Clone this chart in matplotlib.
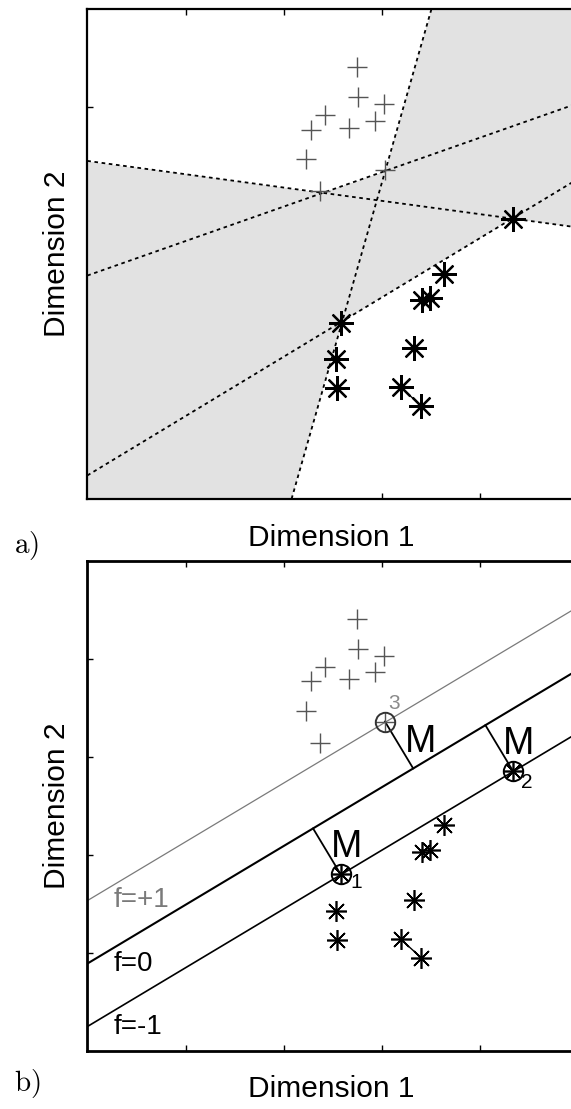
import numpy as np
import matplotlib
matplotlib.use("Agg")
import matplotlib.pyplot as plt

plt.rcParams['font.family'] = ['Liberation Sans', 'DejaVu Sans']
plt.rcParams['mathtext.fontset'] = 'cm'

# class "+" points (Dimension 1, Dimension 2)
plus_x = [2.75, 2.76, 3.02, 2.42, 2.28, 2.66, 2.93, 2.23, 2.37, 3.03]
plus_y = [4.41, 4.10, 4.03, 3.92, 3.77, 3.79, 3.86, 3.47, 3.14, 3.36]
# class "*" points
star_x = [4.33, 3.63, 3.41, 3.49, 2.58, 2.53, 3.33, 2.54, 3.19, 3.40]
star_y = [2.86, 2.30, 2.03, 2.05, 1.80, 1.43, 1.54, 1.13, 1.14, 0.95]

# panel a: four separating lines y = slope*x + icpt (A steep, B, C, D)
line_slope = [3.511, -0.136, 0.352, 0.606]
line_icpt = [-7.30, 3.45, 2.28, 0.24]

# panel b: margin lines f=+1, f=0, f=-1
svm_slope = 0.60
svm_icpt = [1.533, 0.891, 0.249]
svm_names = ["f=+1", "f=0", "f=-1"]
svm_colors = ["#7a7a7a", "black", "black"]
svm_widths = [0.9, 1.5, 1.2]
name_pos = [(0.27, 1.54), (0.27, 0.886), (0.27, 0.244)]

# support vectors: index into star / plus lists, label, and where text goes
sv_list = [("star", 4, "1"), ("star", 0, "2"), ("plus", 9, "3")]
sv_label_pos = [(2.74, 1.72), (4.47, 2.74), (3.12, 3.54)]
m_label_pos = [(2.64, 2.08), (4.39, 3.13), (3.39, 3.15)]

W, H = 571, 1109
fig = plt.figure(figsize=(W / 100, H / 100), dpi=100)


def make_axes(bottom_px, top_px):
    left = 87.3 / W
    width = (578.5 - 87.3) / W
    ax = fig.add_axes([left, 1 - bottom_px / H, width, (bottom_px - top_px) / H])
    ax.set_xlim(0, 5)
    ax.set_ylim(0, 5)
    ax.set_xticks([1, 2, 3, 4])
    ax.set_yticks([1, 2, 3, 4])
    ax.tick_params(direction='in', length=4, width=1, top=True, right=True,
                   labelbottom=False, labelleft=False)
    ax.set_axisbelow(True)
    return ax


def draw_points(ax, star_ms, star_mew):
    ax.plot(plus_x, plus_y, linestyle='none', marker='+', ms=15, mew=1.0,
            color='#555555', zorder=4)
    ax.plot(star_x, star_y, linestyle='none', marker=(8, 2, 0), ms=star_ms,
            mew=star_mew, color='black', zorder=4)
    ax.plot(star_x[8:10], star_y[8:10], color='black', lw=1.0, zorder=3)


# ---------- panel a ----------
axa = make_axes(499, 9)
for s in axa.spines.values():
    s.set_linewidth(1.6)

n = 1200
gx, gy = np.meshgrid(np.linspace(0, 5, n), np.linspace(0, 5, n))
fA = line_slope[0] * gx + line_icpt[0]
fB = line_slope[1] * gx + line_icpt[1]
fC = line_slope[2] * gx + line_icpt[2]
fD = line_slope[3] * gx + line_icpt[3]
white1 = (gy > fA) & (gy > fB) & (gy > fC)
white2 = (gy < fA) & (gy < fD) & (gy < fB)
shade = ~(white1 | white2)
img = np.zeros((n, n, 4))
img[..., :3] = 0.89
img[..., 3] = shade.astype(float)
axa.imshow(img, extent=[0, 5, 0, 5], origin='lower', aspect='auto',
           interpolation='nearest', zorder=1)

xs = np.linspace(0, 5, 400)
for sl, ic in zip(line_slope, line_icpt):
    axa.plot(xs, sl * xs + ic, color='black', lw=1.3, linestyle=(0, (2, 2)),
             zorder=3)
draw_points(axa, 18, 1.6)
axa.set_xlim(0, 5)
axa.set_ylim(0, 5)

# ---------- panel b ----------
axb = make_axes(1051, 560.7)
for s in axb.spines.values():
    s.set_linewidth(2.0)

for ic, nm, col, lw, pos in zip(svm_icpt, svm_names, svm_colors, svm_widths, name_pos):
    axb.plot(xs, svm_slope * xs + ic, color=col, lw=lw, zorder=2)
    axb.text(pos[0], pos[1], nm, color=col, fontsize=20, ha='left', va='center')

draw_points(axb, 15, 1.2)

norm = np.hypot(svm_slope, 1.0)
for (kind, idx, lab), lp, mp in zip(sv_list, sv_label_pos, m_label_pos):
    px = star_x[idx] if kind == "star" else plus_x[idx]
    py = star_y[idx] if kind == "star" else plus_y[idx]
    # foot of perpendicular on the f=0 line
    d = (svm_slope * px - py + svm_icpt[1]) / norm
    fx = px - d * svm_slope / norm
    fy = py + d / norm
    axb.plot([px, fx], [py, fy], color='black', lw=1.3, zorder=3)
    ec = 'black' if kind == "star" else '#333333'
    axb.plot(px, py, marker='o', ms=14, mfc='none', mec=ec, mew=1.4, zorder=5)
    axb.text(lp[0], lp[1], lab, fontsize=15, ha='center', va='center',
             color='black' if kind == "star" else '#8a8a8a')
    axb.text(mp[0], mp[1], "M", fontsize=27, ha='center', va='center')
axb.set_xlim(0, 5)
axb.set_ylim(0, 5)

# axis labels and panel tags
for yb, yc, tag_y, tag in [(546, 254, 546, "a)"), (1096.7, 806, 1084, "b)")]:
    fig.text(331 / W, 1 - yb / H, "Dimension 1", fontsize=21.5, ha='center',
             va='baseline')
    fig.text(57 / W, 1 - yc / H, "Dimension 2", fontsize=21.5, ha='center',
             va='center', rotation=90)
    fig.text(14 / W, 1 - tag_y / H, r'$\mathrm{' + tag + '}$', fontsize=21,
             ha='left', va='center')

fig.savefig("out.png", dpi=100)
